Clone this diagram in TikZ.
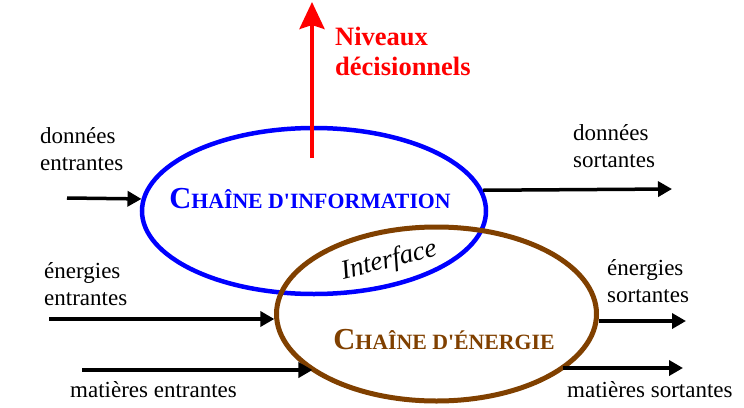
\documentclass[tikz,border=0pt]{standalone}
\usepackage{fontspec}
\setmainfont{Liberation Serif}
\usetikzlibrary{arrows.meta,shapes.geometric}
\definecolor{chblue}{RGB}{0,0,255}
\definecolor{chbrown}{RGB}{128,64,0}
\definecolor{chred}{RGB}{255,0,0}
\newcommand{\bigC}[1]{{\fontsize{30.5}{30}\selectfont #1}}
\newcommand{\smc}[1]{{\fontsize{21.8}{21}\selectfont #1}}
\begin{document}
\begin{tikzpicture}[x=1pt,y=1pt,
  lab/.style={font=\fontsize{23}{27}\selectfont, inner sep=0pt, anchor=base west, align=left},
  flow/.style={line width=3.5pt, -{Triangle[length=14pt,width=15pt]}},
  chain/.style={ellipse, inner sep=0pt, line width=4.5pt},
  ctitle/.style={font=\bfseries, inner sep=0pt, anchor=base}]
\useasboundingbox (0,0) rectangle (744,-407);

% ellipses
\node[chain, draw=chblue, minimum width=344pt, minimum height=166pt] (info) at (314,-211) {};
\node[chain, draw=chbrown, line width=5pt, minimum width=320pt, minimum height=174pt] (ener) at (436.5,-314) {};

% titles
\node[ctitle, text=chblue] (tinfo) at (310,-208) {\bigC{C}\smc{HAÎNE D\textquotesingle INFORMATION}};
\node[ctitle, text=chbrown] (tener) at (444,-349) {\bigC{C}\smc{HAÎNE D\textquotesingle ÉNERGIE}};
\node[font=\itshape\fontsize{27}{27}\selectfont, rotate=14, inner sep=0pt] (iface) at (389,-261) {Interface};

% decision levels
\coordinate (rbot) at (312,-158);
\coordinate (rtop) at (312,-2);
\draw[chred, line width=4pt, -{Stealth[length=27pt,width=25pt,inset=4pt]}] (rbot) -- (rtop);
\node[lab, font=\bfseries\fontsize{26.5}{30}\selectfont, text=chred] (niv) at (335,-75) {Niveaux\\décisionnels};

% flows
\coordinate (din) at (67,-198);
\draw[flow] (din) -- (info.176);
\coordinate (dout) at (672,-189);
\draw[flow] (info.7) -- (dout);
\coordinate (ein) at (49,-319);
\draw[flow] (ein) -- (ein -| ener.182);
\coordinate (min) at (82,-370);
\draw[flow] (min) -- (min -| ener.205);
\coordinate (eout) at (686,-321);
\draw[flow] (eout -| ener.358) -- (eout);
\coordinate (mout) at (683,-368);
\draw[flow] (mout -| ener.336) -- (mout);

% labels
\node[lab] (ldin) at (40,-170) {données\\entrantes};
\node[lab] (ldout) at (573,-167) {données\\sortantes};
\node[lab] (lein) at (44,-305) {énergies\\entrantes};
\node[lab] (lmin) at (70,-397) {matières entrantes};
\node[lab] (leout) at (607,-302) {énergies\\sortantes};
\node[lab] (lmout) at (567,-397) {matières sortantes};
\end{tikzpicture}
\end{document}
